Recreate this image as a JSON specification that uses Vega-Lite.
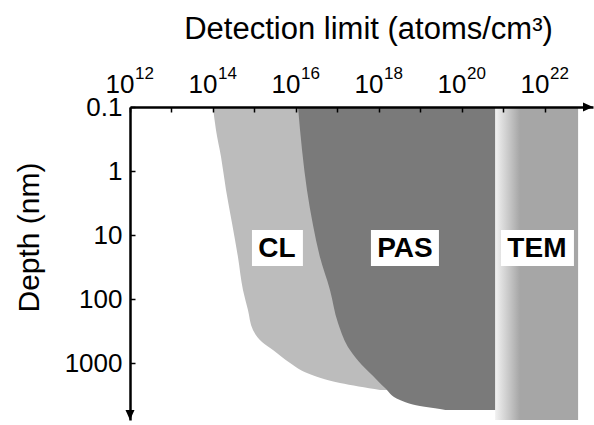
{
  "$schema": "https://vega.github.io/schema/vega-lite/v6.json",
  "width": 463,
  "height": 313,
  "autosize": "none",
  "padding": {"left": 130, "top": 107, "right": 1, "bottom": 5},
  "config": {
    "view": {"stroke": null},
    "font": "Liberation Sans",
    "axis": {"labelFont": "Liberation Sans", "titleFont": "Liberation Sans"},
    "text": {"font": "Liberation Sans"}
  },
  "datasets": {
    "cl": [
      {"depth": 0.1, "left": 1.0e14, "right": 1e20},
      {"depth": 0.229, "left": 1.18e14, "right": 1e20},
      {"depth": 0.6, "left": 1.56e14, "right": 1e20},
      {"depth": 1.98, "left": 2.06e14, "right": 1e20},
      {"depth": 6.5, "left": 2.87e14, "right": 1e20},
      {"depth": 22.1, "left": 4.0e14, "right": 1e20},
      {"depth": 72, "left": 5.28e14, "right": 1e20},
      {"depth": 148, "left": 6.97e14, "right": 1e20},
      {"depth": 305, "left": 9.2e14, "right": 1e20},
      {"depth": 470, "left": 1.52e15, "right": 1e20},
      {"depth": 627, "left": 2.79e15, "right": 1e20},
      {"depth": 1000, "left": 7.2e15, "right": 1e20},
      {"depth": 1432, "left": 1.84e16, "right": 1e20},
      {"depth": 2053, "left": 1.15e17, "right": 1e20},
      {"depth": 2640, "left": 1.06e18, "right": 1e20}
    ],
    "pas": [
      {"depth": 0.1, "left": 1.12e16, "right": 6.3e20},
      {"depth": 0.47, "left": 1.4e16, "right": 6.3e20},
      {"depth": 1.98, "left": 1.84e16, "right": 6.3e20},
      {"depth": 7.0, "left": 2.57e16, "right": 6.3e20},
      {"depth": 22.1, "left": 3.78e16, "right": 6.3e20},
      {"depth": 72, "left": 6.6e16, "right": 6.3e20},
      {"depth": 237, "left": 1.03e17, "right": 6.3e20},
      {"depth": 627, "left": 2.0e17, "right": 6.3e20},
      {"depth": 1073, "left": 3.88e17, "right": 6.3e20},
      {"depth": 1596, "left": 7.2e17, "right": 6.3e20},
      {"depth": 2455, "left": 1.4e18, "right": 6.3e20},
      {"depth": 3784, "left": 3.2e18, "right": 6.3e20},
      {"depth": 4700, "left": 9.7e18, "right": 6.3e20},
      {"depth": 5240, "left": 2.95e19, "right": 6.3e20},
      {"depth": 5420, "left": 4.0e19, "right": 6.3e20}
    ],
    "tem": [
      {"left": 6.3e20, "right": 6.3e22, "top": 0.1, "bottom": 7770}
    ],
    "labels": [
      {"name": "CL", "x": 3.46e15, "x1": 8.7e14, "x2": 1.47e16, "y": 16, "y1": 8.35, "y2": 30.5},
      {"name": "PAS", "x": 4.24e18, "x1": 6.4e17, "x2": 2.79e19, "y": 16, "y1": 8.35, "y2": 30.5},
      {"name": "TEM", "x": 6.4e21, "x1": 8.7e20, "x2": 5.0e22, "y": 16, "y1": 8.35, "y2": 30.5}
    ],
    "exponents": [
      {"x": 1e12, "y": 0.1, "exp": "12"},
      {"x": 1e14, "y": 0.1, "exp": "14"},
      {"x": 1e16, "y": 0.1, "exp": "16"},
      {"x": 1e18, "y": 0.1, "exp": "18"},
      {"x": 1e20, "y": 0.1, "exp": "20"},
      {"x": 1e22, "y": 0.1, "exp": "22"}
    ],
    "arrowDown": [{"x": 1e12, "y": 7770}],
    "arrowRight": [{"x": 1.44e23, "y": 0.1}]
  },
  "layer": [
    {
      "data": {"name": "tem"},
      "mark": {
        "type": "rect",
        "fill": {
          "gradient": "linear", "x1": 0, "y1": 0, "x2": 1, "y2": 0,
          "stops": [
            {"offset": 0, "color": "#f2f2f2"},
            {"offset": 0.3, "color": "#a6a6a6"},
            {"offset": 1, "color": "#a6a6a6"}
          ]
        }
      },
      "encoding": {
        "x": {
          "field": "left", "type": "quantitative",
          "scale": {"type": "log", "domain": [1e12, 1.44e23], "nice": false},
          "axis": {
            "orient": "top",
            "zindex": 2,
            "values": [1e12, 1e13, 1e14, 1e15, 1e16, 1e17, 1e18, 1e19, 1e20, 1e21, 1e22],
            "labelExpr": "(datum.value == 1e12 || datum.value == 1e14 || datum.value == 1e16 || datum.value == 1e18 || datum.value == 1e20 || datum.value == 1e22) ? '10' : ''",
            "labelFlush": false,
            "labelOverlap": false,
            "labelFontSize": 26,
            "labelColor": "black",
            "labelAlign": "right",
            "labelOffset": 4,
            "labelBaseline": "alphabetic",
            "labelPadding": 20,
            "tickSize": -5,
            "tickWidth": 1.5,
            "tickColor": "black",
            "domainColor": "black",
            "domainWidth": 2.5,
            "grid": false,
            "title": "Detection limit (atoms/cm³)",
            "titleFontSize": 31,
            "titleFontWeight": "normal",
            "titleColor": "black",
            "titleBaseline": "alphabetic",
            "titleY": -69,
            "titleX": 238
          }
        },
        "x2": {"field": "right"},
        "y": {
          "field": "top", "type": "quantitative",
          "scale": {"type": "log", "domain": [0.1, 7770], "nice": false, "reverse": true},
          "axis": {
            "zindex": 2,
            "values": [0.1, 1, 10, 100, 1000],
            "format": "~g",
            "labelFontSize": 26,
            "labelColor": "black",
            "labelPadding": 13,
            "tickSize": -5,
            "tickWidth": 1.5,
            "tickColor": "black",
            "domainColor": "black",
            "domainWidth": 2.5,
            "grid": false,
            "title": "Depth (nm)",
            "titleFontSize": 30,
            "titleFontWeight": "normal",
            "titleColor": "black",
            "titleAngle": -90,
            "titleAlign": "center",
            "titleBaseline": "middle",
            "titleX": -101,
            "titleY": 130
          }
        },
        "y2": {"field": "bottom"}
      }
    },
    {
      "data": {"name": "cl"},
      "mark": {"type": "area", "orient": "horizontal", "color": "#bcbcbc", "interpolate": "monotone"},
      "encoding": {
        "y": {"field": "depth", "type": "quantitative"},
        "x": {"field": "left", "type": "quantitative"},
        "x2": {"field": "right"}
      }
    },
    {
      "data": {"name": "pas"},
      "mark": {"type": "area", "orient": "horizontal", "color": "#7a7a7a", "interpolate": "monotone"},
      "encoding": {
        "y": {"field": "depth", "type": "quantitative"},
        "x": {"field": "left", "type": "quantitative"},
        "x2": {"field": "right"}
      }
    },
    {
      "data": {"name": "labels"},
      "mark": {"type": "rect", "color": "white"},
      "encoding": {
        "x": {"field": "x1", "type": "quantitative"},
        "x2": {"field": "x2"},
        "y": {"field": "y1", "type": "quantitative"},
        "y2": {"field": "y2"}
      }
    },
    {
      "data": {"name": "labels"},
      "mark": {"type": "text", "fontSize": 28, "fontWeight": "bold", "color": "black", "align": "center", "baseline": "middle", "dy": 1},
      "encoding": {
        "x": {"field": "x", "type": "quantitative"},
        "y": {"field": "y", "type": "quantitative"},
        "text": {"field": "name"}
      }
    },
    {
      "data": {"name": "exponents"},
      "mark": {"type": "text", "fontSize": 17, "color": "black", "align": "left", "baseline": "alphabetic", "dx": 5, "dy": -28},
      "encoding": {
        "x": {"field": "x", "type": "quantitative"},
        "y": {"field": "y", "type": "quantitative"},
        "text": {"field": "exp"}
      }
    },
    {
      "data": {"name": "arrowDown"},
      "mark": {"type": "point", "shape": "M-0.9,-2L0.9,-2L0,0Z", "filled": true, "color": "black", "size": 100, "opacity": 1},
      "encoding": {
        "x": {"field": "x", "type": "quantitative"},
        "y": {"field": "y", "type": "quantitative"}
      }
    },
    {
      "data": {"name": "arrowRight"},
      "mark": {"type": "point", "shape": "M-2,-0.9L-2,0.9L0,0Z", "filled": true, "color": "black", "size": 100, "opacity": 1},
      "encoding": {
        "x": {"field": "x", "type": "quantitative"},
        "y": {"field": "y", "type": "quantitative"}
      }
    }
  ]
}
